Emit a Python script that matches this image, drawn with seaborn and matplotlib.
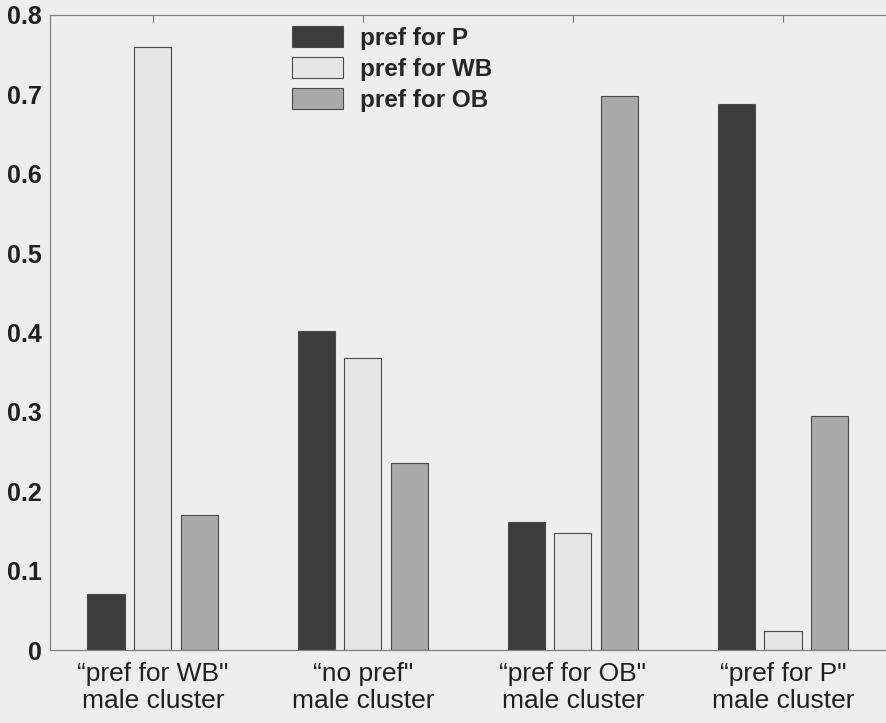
import pandas as pd
import matplotlib.pyplot as plt
import seaborn as sns

clusters = ['\u201cpref for WB"\nmale cluster', '\u201cno pref"\nmale cluster',
            '\u201cpref for OB"\nmale cluster', '\u201cpref for P"\nmale cluster']
series = ["pref for P", "pref for WB", "pref for OB"]
pref_p = [0.071, 0.402, 0.161, 0.688]
pref_wb = [0.760, 0.368, 0.147, 0.024]
pref_ob = [0.170, 0.236, 0.698, 0.295]
colors = ["#3d3d3d", "#e6e6e6", "#a9a9a9"]
yticks = [0, 0.1, 0.2, 0.3, 0.4, 0.5, 0.6, 0.7, 0.8]
ytick_labels = ["0", "0.1", "0.2", "0.3", "0.4", "0.5", "0.6", "0.7", "0.8"]

df = pd.DataFrame({
    "cluster": clusters * 3,
    "pref": [s for s in series for _ in clusters],
    "value": pref_p + pref_wb + pref_ob,
})

sns.set_style("white")
plt.rcParams["font.family"] = ["Liberation Sans", "DejaVu Sans"]

bg = "#eeeeee"
fig = plt.figure(figsize=(8.86, 7.23), dpi=100, facecolor=bg)
ax = fig.add_axes([50 / 886, 73 / 723, 880 / 886, 635 / 723])
ax.set_facecolor(bg)

sns.barplot(data=df, x="cluster", y="value", hue="pref", order=clusters,
            hue_order=series, palette=colors, width=0.67, gap=0.21,
            edgecolor="#4a4a4a", linewidth=0.8, ax=ax)

ax.set_xlim(-0.49, 3.7)
ax.set_ylim(0, 0.8)
ax.set_yticks(yticks)
ax.set_yticklabels(ytick_labels, fontsize=18, fontweight="bold", color="#202020")
ax.set_xticks(range(len(clusters)))
ax.set_xticklabels(clusters, fontsize=19, color="#202020", linespacing=1.12)
ax.set_xlabel("")
ax.set_ylabel("")
ax.tick_params(direction="in", top=True, length=5, width=0.8, color="#777777")
ax.tick_params(axis="x", pad=9)
ax.tick_params(axis="y", pad=6)
for side in ["left", "top", "bottom", "right"]:
    ax.spines[side].set_color("#808080")
    ax.spines[side].set_linewidth(0.9)

ax.legend(loc="upper left", bbox_to_anchor=(280 / 886, 1 - 14 / 723),
          bbox_transform=fig.transFigure, frameon=False, borderpad=0,
          handlelength=2.1, handleheight=0.95, labelspacing=0.3,
          handletextpad=0.7, prop={"weight": "bold", "size": 17.5})

fig.savefig("out.png", dpi=100, facecolor=bg)
